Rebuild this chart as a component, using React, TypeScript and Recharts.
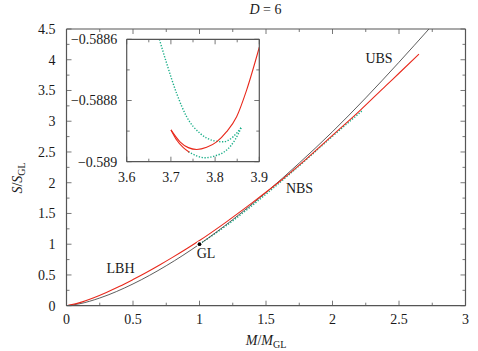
import React from 'react';
import { ComposedChart, Line, XAxis, YAxis, Scatter } from 'recharts';

// ---- Main plot data (M/M_GL, S/S_GL) ----
const ubsM = [0, 0.1, 0.25, 0.5, 0.75, 1, 1.25, 1.5, 1.75, 2, 2.25, 2.5, 2.725];
const ubsS = [0, 0.032, 0.125, 0.354, 0.65, 1, 1.4, 1.84, 2.32, 2.83, 3.38, 3.96, 4.5];

const lbhM = [0, 0.1, 0.2, 0.3, 0.4, 0.5, 0.6, 0.7, 0.8, 0.9, 1.0, 1.2, 1.4, 1.6, 1.8, 2.0, 2.2, 2.4, 2.5, 2.65];
const lbhS = [0, 0.05, 0.126, 0.216, 0.315, 0.425, 0.54, 0.662, 0.79, 0.922, 1.06, 1.36, 1.68, 2.015, 2.38, 2.77, 3.16, 3.575, 3.78, 4.09];

const nbsM = [1.0, 1.2, 1.4, 1.6, 1.8, 2.0, 2.22];
const nbsS = [1.0, 1.3, 1.636, 1.996, 2.37, 2.755, 3.165];

const glM = [1];
const glS = [1];

const mainXTicks = [0, 0.25, 0.5, 0.75, 1, 1.25, 1.5, 1.75, 2, 2.25, 2.5, 2.75, 3];
const mainXLabels = ['0', '', '0.5', '', '1', '', '1.5', '', '2', '', '2.5', '', '3'];
const mainYTicks = [0, 0.25, 0.5, 0.75, 1, 1.25, 1.5, 1.75, 2, 2.25, 2.5, 2.75, 3, 3.25, 3.5, 3.75, 4, 4.25, 4.5];
const mainYLabels = ['0', '', '0.5', '', '1', '', '1.5', '', '2', '', '2.5', '', '3', '', '3.5', '', '4', '', '4.5'];

// ---- Inset data ----
const insRedAx = [3.7002, 3.7206, 3.7394, 3.7583, 3.7809, 3.8035, 3.8261, 3.8487, 3.8713, 3.9];
const insRedAy = [-0.588896, -0.588935, -0.588954, -0.58896, -0.588953, -0.588935, -0.588902, -0.588853, -0.588766, -0.588626];
const insRedBx = [3.7002, 3.713, 3.7281, 3.7417];
const insRedBy = [-0.588896, -0.588929, -0.588954, -0.588969];
const insGrnAx = [3.6739, 3.6904, 3.713, 3.7356, 3.7658, 3.7959, 3.8185, 3.8411, 3.86];
const insGrnAy = [-0.5886, -0.5886785, -0.588777, -0.588853, -0.588907, -0.588931, -0.588935, -0.588918, -0.588886];
const insGrnBx = [3.7394, 3.7583, 3.7771, 3.7997, 3.8261, 3.8449, 3.86];
const insGrnBy = [-0.588967, -0.588981, -0.588987, -0.588981, -0.588962, -0.588929, -0.588886];

const insXTicks = [3.6, 3.65, 3.7, 3.75, 3.8, 3.85, 3.9];
const insXLabels = ['3.6', '', '3.7', '', '3.8', '', '3.9'];
const insYTicks = [-0.589, -0.5889, -0.5888, -0.5887, -0.5886];
const insYLabels = ['\u22120.589', '', '\u22120.5888', '', '\u22120.5886'];

const pts = (xs: number[], ys: number[]) => xs.map((x, i) => ({ x, y: ys[i] }));

const FRAME = '#555';
const RED = '#e8291c';
const GREEN = '#1aae88';
const TXT = '#1a1a1a';
const FONT = '"Liberation Serif", "Times New Roman", serif';
const FS = 14;

const makeTick = (orient: string, ticks: number[], labels: string[], showLabel: boolean, xOff = 14) => (props: any) => {
  const { x, y, payload } = props;
  const i = ticks.findIndex((t) => Math.abs(t - payload.value) < 1e-9);
  const lab = i >= 0 ? labels[i] : '';
  const len = lab ? 5 : 3;
  let line = null;
  let text = null;
  if (orient === 'bottom') {
    line = <line x1={x} y1={y} x2={x} y2={y - len} stroke={FRAME} strokeWidth={0.8} />;
    if (showLabel && lab) text = <text x={x} y={y + xOff + 4.8} textAnchor="middle" fontFamily={FONT} fontSize={FS} fill={TXT}>{lab}</text>;
  } else if (orient === 'top') {
    line = <line x1={x} y1={y} x2={x} y2={y + len} stroke={FRAME} strokeWidth={0.8} />;
  } else if (orient === 'left') {
    line = <line x1={x} y1={y} x2={x + len} y2={y} stroke={FRAME} strokeWidth={0.8} />;
    if (showLabel && lab) text = <text x={x - xOff} y={y + 4.8} textAnchor="end" fontFamily={FONT} fontSize={FS} fill={TXT}>{lab}</text>;
  } else {
    line = <line x1={x} y1={y} x2={x - len} y2={y} stroke={FRAME} strokeWidth={0.8} />;
  }
  return <g>{line}{text}</g>;
};

const Dot = (p: any) => <circle cx={p.cx} cy={p.cy} r={1.9} fill="#000" />;

export default function App() {
  const axisCommon = { tickSize: 0, tickMargin: 0, tickLine: false, interval: 0 as const, allowDataOverflow: true, axisLine: { stroke: FRAME, strokeWidth: 1.2 } };
  return (
    <div style={{ position: 'absolute', left: 0, top: 0, width: 478, height: 351, background: '#fff' }}>
      <div style={{ position: 'absolute', left: 0, top: 0 }}>
        <ComposedChart width={478} height={351} margin={{ top: 28, right: 11.5, bottom: 44.3, left: 65.5 }}>
          <XAxis xAxisId="b" type="number" dataKey="x" domain={[0, 3]} ticks={mainXTicks} orientation="bottom" height={1} {...axisCommon} tick={makeTick('bottom', mainXTicks, mainXLabels, true, 13.5)} />
          <XAxis xAxisId="t" type="number" dataKey="x" domain={[0, 3]} ticks={mainXTicks} orientation="top" height={1} {...axisCommon} tick={makeTick('top', mainXTicks, mainXLabels, false)} />
          <YAxis yAxisId="l" type="number" dataKey="y" domain={[0, 4.5]} ticks={mainYTicks} orientation="left" width={1} {...axisCommon} tick={makeTick('left', mainYTicks, mainYLabels, true, 11)} />
          <YAxis yAxisId="r" type="number" dataKey="y" domain={[0, 4.5]} ticks={mainYTicks} orientation="right" width={1} {...axisCommon} tick={makeTick('right', mainYTicks, mainYLabels, false)} />
          <Line xAxisId="b" yAxisId="l" data={pts(nbsM, nbsS)} dataKey="y" type="monotone" stroke={GREEN} strokeWidth={1.4} strokeDasharray="1.3 1.6" dot={false} isAnimationActive={false} />
          <Line xAxisId="b" yAxisId="l" data={pts(ubsM, ubsS)} dataKey="y" type="monotone" stroke="#333" strokeWidth={0.8} dot={false} isAnimationActive={false} />
          <Line xAxisId="b" yAxisId="l" data={pts(lbhM, lbhS)} dataKey="y" type="monotone" stroke={RED} strokeWidth={1.1} dot={false} isAnimationActive={false} />
          <Line xAxisId="t" yAxisId="r" data={pts(glM, glS)} dataKey="y" stroke="none" dot={false} isAnimationActive={false} />
          <Scatter xAxisId="b" yAxisId="l" data={pts(glM, glS)} dataKey="y" shape={Dot} isAnimationActive={false} />
        </ComposedChart>
      </div>
      <div style={{ position: 'absolute', left: 0, top: 0 }}>
        <ComposedChart width={478} height={351} margin={{ top: 38.3, right: 217.7, bottom: 188.3, left: 125.7 }}>
          <XAxis xAxisId="b" type="number" dataKey="x" domain={[3.6, 3.9]} ticks={insXTicks} orientation="bottom" height={1} {...axisCommon} tick={makeTick('bottom', insXTicks, insXLabels, true, 15)} />
          <XAxis xAxisId="t" type="number" dataKey="x" domain={[3.6, 3.9]} ticks={insXTicks} orientation="top" height={1} {...axisCommon} tick={makeTick('top', insXTicks, insXLabels, false)} />
          <YAxis yAxisId="l" type="number" dataKey="y" domain={[-0.589, -0.5886]} ticks={insYTicks} orientation="left" width={1} {...axisCommon} tick={makeTick('left', insYTicks, insYLabels, true, 9.4)} />
          <YAxis yAxisId="r" type="number" dataKey="y" domain={[-0.589, -0.5886]} ticks={insYTicks} orientation="right" width={1} {...axisCommon} tick={makeTick('right', insYTicks, insYLabels, false)} />
          <Line xAxisId="b" yAxisId="l" data={pts(insGrnAx, insGrnAy)} dataKey="y" type="monotone" stroke={GREEN} strokeWidth={1.4} strokeDasharray="1.3 1.6" dot={false} isAnimationActive={false} />
          <Line xAxisId="b" yAxisId="l" data={pts(insGrnBx, insGrnBy)} dataKey="y" type="monotone" stroke={GREEN} strokeWidth={1.4} strokeDasharray="1.3 1.6" dot={false} isAnimationActive={false} />
          <Line xAxisId="b" yAxisId="l" data={pts(insRedAx, insRedAy)} dataKey="y" type="monotone" stroke={RED} strokeWidth={1.1} dot={false} isAnimationActive={false} />
          <Line xAxisId="b" yAxisId="l" data={pts(insRedBx, insRedBy)} dataKey="y" type="monotone" stroke={RED} strokeWidth={1.1} dot={false} isAnimationActive={false} />
          <Line xAxisId="t" yAxisId="r" data={pts(insRedBx, insRedBy)} dataKey="y" stroke="none" dot={false} isAnimationActive={false} />
        </ComposedChart>
      </div>
      <svg width={478} height={351} style={{ position: 'absolute', left: 0, top: 0, pointerEvents: 'none' }}>
        <g fontFamily={FONT} fontSize={FS} fill={TXT}>
          <text x={265.5} y={14} textAnchor="middle"><tspan fontStyle="italic">D</tspan> = 6</text>
          <text x={266} y={345} textAnchor="middle"><tspan fontStyle="italic">M</tspan>/<tspan fontStyle="italic">M</tspan><tspan fontSize={10} dy={3}>GL</tspan></text>
          <text transform="translate(22,178) rotate(-90)" textAnchor="middle"><tspan fontStyle="italic">S</tspan>/<tspan fontStyle="italic">S</tspan><tspan fontSize={10} dy={3}>GL</tspan></text>
          <text x={379} y={63} textAnchor="middle">UBS</text>
          <text x={299.5} y={192.5} textAnchor="middle">NBS</text>
          <text x={120.5} y={273} textAnchor="middle">LBH</text>
          <text x={206} y={257.5} textAnchor="middle">GL</text>
        </g>
      </svg>
    </div>
  );
}
